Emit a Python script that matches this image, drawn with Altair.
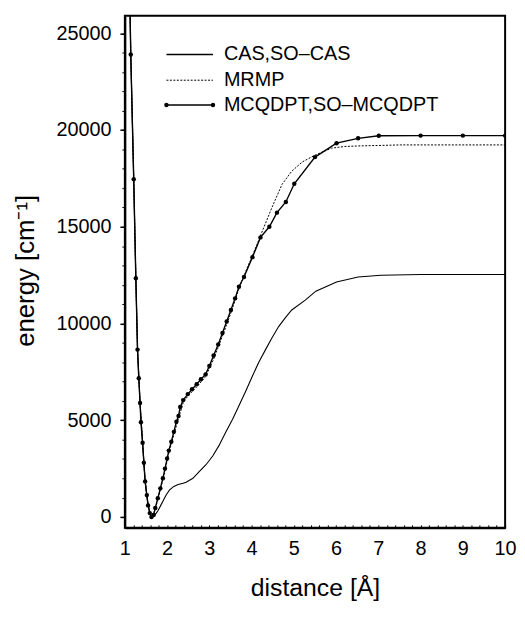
import altair as alt
import pandas as pd

# ---- data ----
cas_x = [1.12, 1.14, 1.21, 1.26, 1.30, 1.36, 1.42, 1.48, 1.55, 1.61, 1.66, 1.72, 1.79, 1.85,
         1.91, 1.98, 2.06, 2.16, 2.26, 2.38, 2.45, 2.61, 2.76, 2.92, 3.08, 3.23, 3.39, 3.55,
         3.70, 3.86, 4.02, 4.17, 4.33, 4.48, 4.64, 4.80, 4.95, 5.27, 5.52, 6.01, 6.52, 7.06,
         8.0, 10.0]
cas_e = [26500, 23900, 17460, 12340, 8650, 5890, 3840, 1840, 600, 100, 0, 120, 350, 600,
         850, 1150, 1400, 1580, 1680, 1740, 1800, 2000, 2340, 2700, 3150, 3700, 4390, 5050,
         5750, 6500, 7290, 8000, 8650, 9250, 9840, 10300, 10700, 11210, 11670, 12150, 12400, 12490,
         12530, 12530]

mrmp_x = [1.12, 1.14, 1.21, 1.26, 1.30, 1.36, 1.42, 1.48, 1.55, 1.63, 1.72, 1.84, 1.95, 2.04,
          2.16, 2.27, 2.38, 2.49, 2.70, 2.91, 3.10, 3.31, 3.51, 3.70, 3.90, 4.02, 4.21, 4.48,
          4.72, 4.95, 5.20, 5.50, 5.89, 6.20, 6.59, 7.53, 10.0]
mrmp_e = [26500, 24000, 17500, 12400, 8700, 5900, 3850, 1850, 600, 0, 420, 1400, 2380, 3300,
          4250, 5100, 5900, 6250, 6720, 7250, 8150, 9350, 10550, 11800, 12900, 13500, 14540, 15990,
          17190, 17870, 18350, 18700, 19060, 19150, 19180, 19230, 19230]

mcq_x = [1.12, 1.14, 1.21, 1.26, 1.30, 1.33, 1.36, 1.38, 1.42, 1.45, 1.48, 1.52, 1.55, 1.59,
         1.63, 1.68, 1.72, 1.78, 1.84, 1.90, 1.95, 2.00, 2.04, 2.10, 2.16, 2.22, 2.27, 2.31,
         2.38, 2.49, 2.59, 2.70, 2.80, 2.91, 3.00, 3.10, 3.21, 3.31, 3.41, 3.51, 3.61, 3.70,
         3.82, 4.02, 4.21, 4.42, 4.60, 4.81, 5.01, 5.50, 6.01, 6.52, 7.01, 8.0, 9.0, 10.0]
mcq_e = [26500, 23900, 17460, 12340, 8650, 7170, 5890, 4900, 3840, 2800, 1840, 1130, 600, 200,
         0, 100, 460, 970, 1480, 2000, 2500, 3020, 3430, 3890, 4400, 4920, 5220, 5680,
         6040, 6350, 6600, 6860, 7120, 7370, 7800, 8350, 8910, 9510, 10100, 10700, 11300, 11900,
         12400, 13430, 14450, 15000, 15730, 16280, 17220, 18600, 19320, 19570, 19700, 19710, 19710, 19710]

legend_labels = ["CAS,SO\u2013CAS", "MRMP", "MCQDPT,SO\u2013MCQDPT"]
x_major = [1, 2, 3, 4, 5, 6, 7, 8, 9, 10]
x_minor = [round(1 + 0.2 * i, 1) for i in range(46)]
y_major = [0, 5000, 10000, 15000, 20000, 25000]
y_minor = [1000 * i for i in range(26)]

W, H = 384, 517
FONT = "Liberation Sans"

cas = pd.DataFrame({"x": cas_x, "e": cas_e})
mrmp = pd.DataFrame({"x": mrmp_x, "e": mrmp_e})
mcq = pd.DataFrame({"x": mcq_x, "e": mcq_e})

xs = alt.Scale(domain=[1, 10], nice=False, zero=False)
ys = alt.Scale(domain=[-560, 25900], nice=False, zero=False)

x_axis_main = alt.Axis(values=x_major, format="d", ticks=False, labelFontSize=20, labelPadding=11,
                       labelFlush=False, labelOverlap=False,
                       labelFont=FONT, labelColor="black", domainColor="black", domainWidth=2,
                       grid=False, title="distance [Å]", titleFont=FONT, titleFontSize=25,
                       titleFontWeight="normal", titleColor="black", titleX=W / 2, titleY=68,
                       titleAlign="center", titleBaseline="alphabetic")
y_axis_main = alt.Axis(values=y_major, format="d", tickSize=5, tickWidth=1.5, tickColor="black",
                       labelFontSize=20, labelPadding=9, labelFont=FONT, labelColor="black",
                       labelFlush=False, labelOverlap=False,
                       domainColor="black", domainWidth=2, grid=False,
                       title="energy [cm\u207b\u00b9]", titleFont=FONT, titleFontSize=26,
                       titleFontWeight="normal", titleColor="black", titleX=-100, titleY=257,
                       titleAngle=270, titleAlign="center", titleBaseline="middle")
x_axis_minor = alt.Axis(orient="top", offset=-H, values=x_minor, labels=False, domain=False,
                        tickSize=3, tickWidth=1, tickColor="black", grid=False, title=None)
y_axis_minor = alt.Axis(orient="left", values=y_minor, labels=False, domain=False,
                        tickSize=3, tickWidth=1, tickColor="black", grid=False, title=None)

cas_layer = alt.Chart(cas).mark_line(color="black", strokeWidth=1.1, clip=True).encode(
    x=alt.X("x:Q", scale=xs, axis=x_axis_main),
    y=alt.Y("e:Q", scale=ys, axis=y_axis_main),
    order="x:Q",
)
mrmp_layer = alt.Chart(mrmp).mark_line(color="black", strokeWidth=1, strokeDash=[2, 1.5], clip=True).encode(
    x=alt.X("x:Q", scale=xs, axis=x_axis_minor),
    y=alt.Y("e:Q", scale=ys, axis=y_axis_minor),
    order="x:Q",
)
mcq_line = alt.Chart(mcq).mark_line(color="black", strokeWidth=1.4, clip=True).encode(
    x=alt.X("x:Q", scale=xs, axis=None),
    y=alt.Y("e:Q", scale=ys, axis=None),
    order="x:Q",
)
mcq_pts = alt.Chart(mcq).mark_point(color="black", filled=True, size=20, opacity=1, clip=True).encode(
    x=alt.X("x:Q", scale=xs, axis=None),
    y=alt.Y("e:Q", scale=ys, axis=None),
)

# ---- legend (drawn inside the plot, top left) ----
leg_x0, leg_x1, leg_tx = 42, 89, 100
leg_y = [39, 65, 90]
leg_dash = [[1, 0], [2, 1.5], [1, 0]]
leg_width = [1.4, 1, 1.4]
leg_df = pd.DataFrame({"label": legend_labels})
legend_layers = []
for i, lab in enumerate(legend_labels):
    one = leg_df[leg_df["label"] == lab]
    legend_layers.append(
        alt.Chart(one).mark_rule(color="black", strokeWidth=leg_width[i], strokeDash=leg_dash[i]).encode(
            x=alt.value(leg_x0), x2=alt.value(leg_x1), y=alt.value(leg_y[i]))
    )
    legend_layers.append(
        alt.Chart(one).mark_text(align="left", baseline="middle", fontSize=20, font=FONT, color="black").encode(
            x=alt.value(leg_tx), y=alt.value(leg_y[i]), text="label:N")
    )
    if i == 2:
        for px in (leg_x0, leg_x1):
            legend_layers.append(
                alt.Chart(one).mark_point(color="black", filled=True, size=20, opacity=1).encode(
                    x=alt.value(px), y=alt.value(leg_y[i]))
            )

chart = alt.layer(cas_layer, mrmp_layer, mcq_line, mcq_pts, *legend_layers).resolve_axis(
    x="independent", y="independent"
).properties(
    width=W, height=H,
    autosize=alt.AutoSizeParams(type="none"),
    padding={"left": 118, "top": 5, "right": 12, "bottom": 74},
    background="white",
).configure_view(stroke="black", strokeWidth=2)

chart.save("out.html", embed_options={"renderer": "svg", "actions": False})
